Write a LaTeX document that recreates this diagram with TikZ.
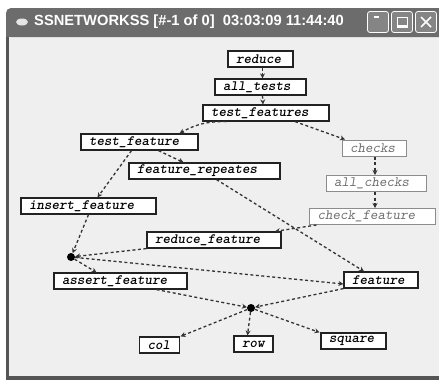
\documentclass[tikz,border=0pt]{standalone}
\usepackage{fontspec}
\setmainfont{Liberation Sans}
\newfontfamily\boxfont[Extension=.otf]{lmmonolt10-boldoblique}
\usetikzlibrary{arrows.meta,shapes.geometric}
\definecolor{winbg}{HTML}{EFEFEF}
\definecolor{titlegray}{HTML}{6C6C6C}
\definecolor{framegray}{HTML}{555555}
\definecolor{edgecol}{HTML}{333333}
\definecolor{boxline}{HTML}{222222}
\definecolor{lightline}{HTML}{8C8C8C}
\definecolor{lighttext}{HTML}{6E6E6E}
\definecolor{btngray}{HTML}{858585}
\tikzset{
 box/.style={draw=boxline, line width=1.2pt, fill=white, minimum height=16pt, inner xsep=8pt, inner ysep=0pt, align=left, font=\boxfont\fontsize{14.3}{15}\selectfont},
 gbox/.style={box, draw=lightline, line width=1pt, text=lighttext, font=\ttfamily\fontsize{14.3}{15}\selectfont\slshape},
 link/.style={draw=edgecol, line width=1.3pt, dash pattern=on 3pt off 2.5pt, -{Stealth[length=5pt,width=5pt]}},
 junc/.style={circle, fill=black, minimum size=8pt, inner sep=0pt},
 winbtn/.style={draw=white, line width=0.8pt, fill=btngray, rounded corners=2.5pt},
}
\begin{document}
\begin{tikzpicture}[x=1pt,y=-1pt]
\useasboundingbox (0,0) rectangle (439,380);
\fill[white] (0,0) rectangle (439,380);
% window frame and client area
\fill[framegray] (6,30) rectangle (439,380);
\fill[winbg] (9,37) rectangle (439,376);
% title bar
\fill[titlegray, rounded corners=5pt] (6,8) rectangle (450,37);
\fill[titlegray] (6,28) rectangle (439,37);
\node[fill=white!80!gray, ellipse, minimum width=12pt, minimum height=7pt, inner sep=0pt] (icon) at (22,22) {};
\node[anchor=west, text=white, font=\fontsize{14.7}{16}\selectfont\bfseries, inner sep=0pt] (title) at (34,22) {SSNETWORKSS [\#-1 of 0]\ \ 03:03:09 11:44:40};
% buttons
\node[winbtn, minimum width=21pt, minimum height=21pt] (bmin) at (378,22) {};
\node[winbtn, minimum width=21pt, minimum height=21pt] (bmax) at (402,22) {};
\node[winbtn, minimum width=21pt, minimum height=21pt] (bcls) at (426,22) {};
\draw[white, line width=2pt] ([xshift=-4pt,yshift=5pt]bmin.center) -- ([xshift=1pt,yshift=5pt]bmin.center);
\draw[white, line width=1pt] ([xshift=-5pt,yshift=-5pt]bmax.center) rectangle ([xshift=5pt,yshift=5pt]bmax.center);
\draw[white, line width=2pt] ([xshift=-5pt,yshift=-4pt]bmax.center) -- ([xshift=5pt,yshift=-4pt]bmax.center);
\draw[white, line width=1.6pt] ([xshift=-5pt,yshift=-5pt]bcls.center) -- ([xshift=5pt,yshift=5pt]bcls.center);
\draw[white, line width=1.6pt] ([xshift=-5pt,yshift=5pt]bcls.center) -- ([xshift=5pt,yshift=-5pt]bcls.center);
% nodes
\node[box, text width=49pt]  (reduce)   at (260.5,59)  {reduce};
\node[box, text width=75pt]  (alltests) at (260.5,87)  {all\_tests};
\node[box, text width=110pt] (tfs)      at (266,113)   {test\_features};
\node[gbox, text width=48pt] (checks)   at (374,148)   {checks};
\node[box, text width=101pt] (tf)       at (139.5,142) {test\_feature};
\node[box, text width=135pt] (frep)     at (204.5,171) {feature\_repeates};
\node[gbox, text width=84pt] (allchk)   at (376,183.5) {all\_checks};
\node[gbox, text width=110pt] (chkf)    at (372.5,216.5) {check\_feature};
\node[box, text width=119pt] (insf)     at (88.5,206)  {insert\_feature};
\node[box, text width=118pt] (redf)     at (214,240)   {reduce\_feature};
\node[box, text width=117pt] (assf)     at (120.5,281) {assert\_feature};
\node[box, text width=58pt]  (feat)     at (381,280)   {feature};
\node[box, text width=24pt]  (col)      at (159.5,345) {col};
\node[box, text width=23pt]  (row)      at (253.5,344) {row};
\node[box, text width=49pt]  (square)   at (353.5,341) {square};
\node[junc] (j1) at (71,257) {};
\node[junc] (j2) at (251,308) {};
% connectors
\draw[link] ([xshift=2pt]reduce.south) -- ([xshift=2pt]alltests.north);
\draw[link] ([xshift=2pt]alltests.south) -- ([xshift=-3pt]tfs.north);
\draw[link] ([xshift=-40pt]tfs.south) to[bend right=15] ([xshift=40pt]tf.north);
\draw[link] ([xshift=29pt]tfs.south) -- ([xshift=-29pt]checks.north);
\draw[link] ([xshift=1pt]checks.south) -- ([xshift=-1pt]allchk.north);
\draw[link] ([xshift=-1pt]allchk.south) -- ([xshift=2.5pt]chkf.north);
\draw[link] ([xshift=-56pt]chkf.south) -- ([xshift=61pt]redf.north);
\draw[link] ([xshift=19pt]tf.south) -- ([xshift=-21pt]frep.north);
\draw[link] ([xshift=-8pt]tf.south) -- ([xshift=9pt]insf.north);
\draw[link] ([xshift=12pt]frep.south) -- ([xshift=-17pt]feat.north);
\draw[link] (insf.south) -- (j1);
\draw[link] (redf.south west) -- (j1);
\draw[link] (j1) -- ([yshift=-4pt]feat.west);
\draw[link] (j1) -- ([xshift=-24pt]assf.north);
\draw[link] ([xshift=36pt]assf.south) -- (j2);
\draw[link] (feat.south west) -- (j2);
\draw[link] (j2) -- ([xshift=21pt]col.north);
\draw[link] (j2) -- ([xshift=-6pt]row.north);
\draw[link] (j2) -- ([xshift=-34pt]square.north);
\end{tikzpicture}
\end{document}
